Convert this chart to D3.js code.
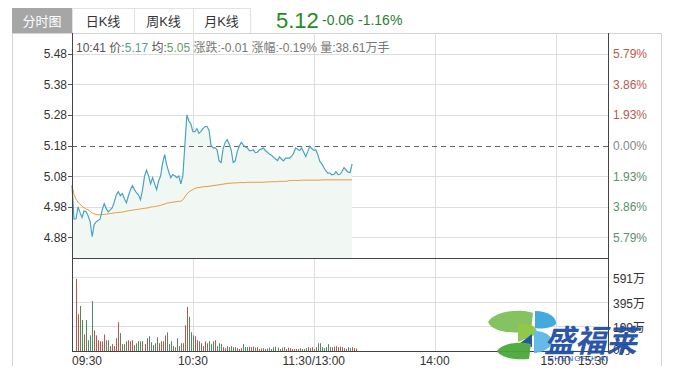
<!DOCTYPE html>
<html>
<head>
<meta charset="utf-8">
<script src="https://cdn.jsdelivr.net/npm/d3@7"></script>
<style>
  body { margin: 0; background: #fff; }
  svg text { font-family: "Liberation Sans", Arial, "Noto Sans CJK SC", sans-serif; }
</style>
</head>
<body>
<svg width="679" height="387"></svg>
<script>
// minute-by-minute price, from 09:30
var price = [
  5.05, 4.94, 4.941, 4.98, 4.961, 4.945, 4.967, 4.964, 4.951, 4.931,
  4.883, 4.922, 4.931, 4.935, 4.941, 4.97, 4.99, 4.974, 4.964, 4.97,
  4.977, 4.996, 5.019, 5.029, 5.016, 5.023, 5.006, 4.993, 5.016, 5.036,
  5.049, 5.036, 5.026, 5.019, 5.003, 5.036, 5.08, 5.10, 5.081, 5.055,
  5.075, 5.055, 5.036, 5.065, 5.081, 5.124, 5.15, 5.117, 5.094, 5.075,
  5.085, 5.081, 5.075, 5.081, 5.055, 5.081, 5.18, 5.28, 5.26, 5.25,
  5.225, 5.225, 5.235, 5.22, 5.226, 5.235, 5.242, 5.242, 5.23, 5.18,
  5.172, 5.173, 5.166, 5.13, 5.125, 5.17, 5.19, 5.199, 5.185, 5.165,
  5.125, 5.13, 5.16, 5.178, 5.19, 5.182, 5.175, 5.172, 5.163, 5.163,
  5.166, 5.157, 5.158, 5.166, 5.168, 5.172, 5.163, 5.158, 5.152, 5.148,
  5.142, 5.136, 5.131, 5.143, 5.135, 5.13, 5.139, 5.139, 5.139, 5.145,
  5.155, 5.172, 5.168, 5.164, 5.172, 5.158, 5.144, 5.16, 5.178, 5.17,
  5.164, 5.166, 5.15, 5.128, 5.12, 5.108, 5.097, 5.09, 5.09, 5.084,
  5.086, 5.095, 5.085, 5.086, 5.095, 5.108, 5.1, 5.093, 5.092, 5.12
];

// average price line
var avgPrice = [
  5.05, 5.02, 5.005, 4.995, 4.988, 4.982, 4.977, 4.973, 4.97, 4.965,
  4.96, 4.957, 4.955, 4.954, 4.954, 4.955, 4.955, 4.956, 4.957, 4.958,
  4.959, 4.96, 4.961, 4.962, 4.962, 4.963, 4.964, 4.966, 4.967, 4.968,
  4.969, 4.97, 4.971, 4.972, 4.973, 4.974, 4.975, 4.976, 4.977, 4.979,
  4.98, 4.981, 4.982, 4.983, 4.985, 4.987, 4.989, 4.992, 4.993, 4.994,
  4.995, 4.996, 4.997, 4.998, 4.998, 5.003, 5.012, 5.022, 5.028, 5.033,
  5.036, 5.04, 5.042, 5.043, 5.044, 5.045, 5.046, 5.046, 5.047, 5.048,
  5.049, 5.05, 5.051, 5.052, 5.053, 5.054, 5.055, 5.056, 5.057, 5.057,
  5.058, 5.058, 5.058, 5.059, 5.059, 5.059, 5.059, 5.06, 5.06, 5.06,
  5.06, 5.06, 5.06, 5.06, 5.06, 5.06, 5.061, 5.061, 5.061, 5.062,
  5.062, 5.062, 5.062, 5.063, 5.063, 5.063, 5.063, 5.064, 5.066, 5.066,
  5.066, 5.066, 5.066, 5.066, 5.067, 5.067, 5.067, 5.067, 5.067, 5.067,
  5.067, 5.067, 5.067, 5.067, 5.068, 5.068, 5.068, 5.068, 5.068, 5.068,
  5.068, 5.068, 5.068, 5.068, 5.068, 5.068, 5.068, 5.068, 5.068, 5.068
];

// volume per minute, in 万
var volume = [
  578, 295, 361, 248, 133, 248, 86, 125, 400, 165,
  125, 86, 78, 78, 133, 86, 86, 39, 55, 39,
  102, 230, 143, 55, 55, 78, 86, 78, 86, 47,
  62, 78, 78, 78, 55, 102, 118, 70, 47, 62,
  110, 62, 78, 78, 125, 150, 55, 78, 39, 31,
  102, 39, 62, 62, 206, 353, 274, 150, 125, 118,
  86, 78, 62, 39, 78, 62, 78, 55, 78, 86,
  39, 62, 55, 31, 23, 39, 31, 39, 31, 31,
  23, 16, 23, 55, 31, 31, 35, 31, 35, 27,
  31, 16, 20, 23, 16, 20, 27, 16, 31, 35,
  27, 16, 27, 31, 16, 27, 23, 16, 16, 16,
  16, 23, 16, 16, 23, 31, 23, 31, 16, 31,
  62, 62, 31, 23, 31, 55, 31, 31, 35, 39,
  31, 35, 31, 23, 16, 31, 23, 31, 23, 20
];

var preClose = 5.18;
var priceTicks = [5.48, 5.38, 5.28, 5.18, 5.08, 4.98, 4.88];
var pctLabels = ["5.79%", "3.86%", "1.93%", "0.00%", "1.93%", "3.86%", "5.79%"];
var volTicks = [591, 395, 199];
var volLabels = ["591万", "395万", "199万"];
var timeTicks = [0, 60, 120, 180, 240, 266];
var timeLabels = ["09:30", "10:30", "11:30/13:00", "14:00", "15:00", "15:30"];
var tabs = ["分时图", "日K线", "周K线", "月K线"];

var svg = d3.select("svg");

var x = d3.scaleLinear().domain([0, 266]).range([72, 608]);
var y = d3.scaleLinear().domain([4.813, 5.547]).range([258, 33]);
var yv = d3.scaleLinear().domain([0, 745]).range([351, 258]);

// tabs
var tabX = [12, 72, 134, 193, 250];
svg.append("g").selectAll("rect")
  .data(tabs)
  .enter()
  .append("rect")
  .attr("x", function (d, i) { return tabX[i] + 0.5; })
  .attr("y", 8.5)
  .attr("width", function (d, i) { return tabX[i + 1] - tabX[i]; })
  .attr("height", 25)
  .style("fill", function (d, i) { return i === 0 ? "#a6a6a6" : "#fff"; })
  .style("stroke", function (d, i) { return i === 0 ? "#a6a6a6" : "#e2e2e2"; });

svg.append("g").selectAll("text")
  .data(tabs)
  .enter()
  .append("text")
  .attr("x", function (d, i) { return (tabX[i] + tabX[i + 1]) / 2; })
  .attr("y", 26)
  .attr("text-anchor", "middle")
  .style("font-size", "13px")
  .style("fill", function (d, i) { return i === 0 ? "#fff" : "#333"; })
  .text(function (d) { return d; });

// last price + change
var last = price[price.length - 1];
svg.append("text").attr("x", 276).attr("y", 28)
  .style("font-size", "22px").style("fill", "#228b22")
  .text(last.toFixed(2));
svg.append("text").attr("x", 322).attr("y", 25)
  .style("font-size", "14px").style("fill", "#2e7d32")
  .text((last - preClose).toFixed(2));
svg.append("text").attr("x", 358).attr("y", 25)
  .style("font-size", "14px").style("fill", "#2e7d32")
  .text(((last - preClose) / preClose * 100).toFixed(2) + "%");

// outer frame
svg.append("path")
  .attr("d", "M12.5,366V33.5H661.5V366")
  .style("fill", "none").style("stroke", "#d4d4d4");

// grid
var grid = svg.append("g").style("stroke", "#dedede").style("shape-rendering", "crispEdges");
grid.selectAll(".hp")
  .data(priceTicks.filter(function (d) { return d !== preClose; }))
  .enter().append("line")
  .attr("x1", 72).attr("x2", 608)
  .attr("y1", function (d) { return Math.round(y(d)) + 0.5; })
  .attr("y2", function (d) { return Math.round(y(d)) + 0.5; });
grid.selectAll(".hv")
  .data(volTicks)
  .enter().append("line")
  .attr("x1", 72).attr("x2", 608)
  .attr("y1", function (d) { return Math.round(yv(d)) + 0.5; })
  .attr("y2", function (d) { return Math.round(yv(d)) + 0.5; });
grid.selectAll(".vt")
  .data(timeTicks.slice(1, 5))
  .enter().append("line")
  .attr("y1", 33).attr("y2", 351)
  .attr("x1", function (d) { return Math.round(x(d)) + 0.5; })
  .attr("x2", function (d) { return Math.round(x(d)) + 0.5; });

// area under price
svg.append("path")
  .datum(price)
  .attr("d", d3.area()
    .x(function (d, i) { return x(i); })
    .y0(258)
    .y1(function (d) { return y(d); }))
  .style("fill", "#f1f7f3");

// pre close dashed line
svg.append("line")
  .attr("x1", 72).attr("x2", 608)
  .attr("y1", Math.round(y(preClose)) + 0.5).attr("y2", Math.round(y(preClose)) + 0.5)
  .style("stroke", "#666").style("stroke-dasharray", "5,4");

// volume bars, coloured by the minute's move
svg.append("g").selectAll("line")
  .data(volume)
  .enter().append("line")
  .attr("x1", function (d, i) { return Math.round(x(i) + 4) + 0.5; })
  .attr("x2", function (d, i) { return Math.round(x(i) + 4) + 0.5; })
  .attr("y1", 351)
  .attr("y2", function (d) { return yv(d); })
  .style("stroke", function (d, i) {
    var j = Math.min(i + 2, price.length - 1);
    return price[j] >= price[j - 1] ? "#b5574b" : "#4f8a62";
  })
  .style("stroke-width", 1);

// lines
svg.append("path")
  .datum(avgPrice)
  .attr("d", d3.line().x(function (d, i) { return x(i); }).y(function (d) { return y(d); }))
  .style("fill", "none").style("stroke", "#e49a3c").style("stroke-width", 1);
svg.append("path")
  .datum(price)
  .attr("d", d3.line().x(function (d, i) { return x(i); }).y(function (d) { return y(d); }))
  .style("fill", "none").style("stroke", "#4aa3c2").style("stroke-width", 1.2);

// axes frames
svg.append("path")
  .attr("d", "M72.5,33V351.5H608.5V33M72,258.5H608")
  .style("fill", "none").style("stroke", "#444").style("shape-rendering", "crispEdges");

// left price labels
svg.append("g").selectAll("line")
  .data(priceTicks)
  .enter().append("line")
  .attr("x1", 68).attr("x2", 72)
  .attr("y1", function (d) { return Math.round(y(d)) + 0.5; })
  .attr("y2", function (d) { return Math.round(y(d)) + 0.5; })
  .style("stroke", "#555");
svg.append("g").selectAll("text")
  .data(priceTicks)
  .enter().append("text")
  .attr("x", 67)
  .attr("y", function (d) { return y(d) + 4.5; })
  .attr("text-anchor", "end")
  .style("font-size", "12px").style("fill", "#333")
  .text(function (d) { return d.toFixed(2); });

// right pct labels
svg.append("g").selectAll("text")
  .data(priceTicks)
  .enter().append("text")
  .attr("x", 613)
  .attr("y", function (d) { return y(d) + 4.5; })
  .style("font-size", "12px")
  .style("fill", function (d) {
    if (d > preClose) return "#b85a4e";
    if (d < preClose) return "#5c8f6c";
    return "#888";
  })
  .text(function (d, i) { return pctLabels[i]; });

// right volume labels
svg.append("g").selectAll("text")
  .data(volTicks)
  .enter().append("text")
  .attr("x", 613)
  .attr("y", function (d) { return yv(d) + 6; })
  .style("font-size", "12px").style("fill", "#333")
  .text(function (d, i) { return volLabels[i]; });
svg.append("text").attr("x", 613).attr("y", yv(0) + 3)
  .style("font-size", "12px").style("fill", "#333").text("0万");

// time labels
svg.append("g").selectAll("text")
  .data(timeTicks)
  .enter().append("text")
  .attr("x", function (d) { return x(d); })
  .attr("y", 365)
  .attr("text-anchor", function (d, i) {
    if (i === 0) return "start";
    if (i === timeTicks.length - 1) return "end";
    return "middle";
  })
  .style("font-size", "12px").style("fill", "#333")
  .text(function (d, i) { return timeLabels[i]; });

// info header
var info = svg.append("text").attr("x", 76).attr("y", 52).style("font-size", "12px");
info.append("tspan").style("fill", "#555").text("10:41 价:");
info.append("tspan").style("fill", "#5a9c8c").text(price[71].toFixed(2));
info.append("tspan").style("fill", "#555").text(" 均:");
info.append("tspan").style("fill", "#6a9c6a").text("5.05");
info.append("tspan").style("fill", "#777").text(" 涨跌:-0.01 涨幅:-0.19% 量:38.61万手");

// watermark logo
var logo = svg.append("g").style("opacity", 0.95);
logo.append("path").attr("d", "M488,322 C496,309 525,309 533,313 L531,331 C515,334 493,333 488,322 Z").style("fill", "#7fbf5a");
logo.append("path").attr("d", "M535,311 C549,311 557,318 556,324 C550,329 540,329 535,328 Z").style("fill", "#3aa6dc");
logo.append("path").attr("d", "M518,324 C528,322 538,326 537,334 L518,342 Z").style("fill", "#8cc63f");
logo.append("path").attr("d", "M519,344 L532,334 L532,347 Z").style("fill", "#1a4f9c");
logo.append("path").attr("d", "M534,331 C546,331 554,337 552,345 C546,351 539,353 534,353 Z").style("fill", "#5cb8e6");
logo.append("path").attr("d", "M497,351 C502,343 520,341 531,344 L529,359 C515,360 501,358 497,351 Z").style("fill", "#4aa83a");
logo.append("text").attr("x", 544).attr("y", 352)
  .style("font-size", "31px").style("font-weight", "bold").style("font-style", "italic")
  .style("fill", "#1f4fa3").style("font-family", "'Noto Sans CJK SC', sans-serif")
  .text("盛福莱");
logo.append("text").attr("x", 548).attr("y", 361)
  .style("font-size", "8px").style("fill", "#1f4fa3").style("letter-spacing", "1px")
  .text("SHENGFULAI");
</script>
</body>
</html>
